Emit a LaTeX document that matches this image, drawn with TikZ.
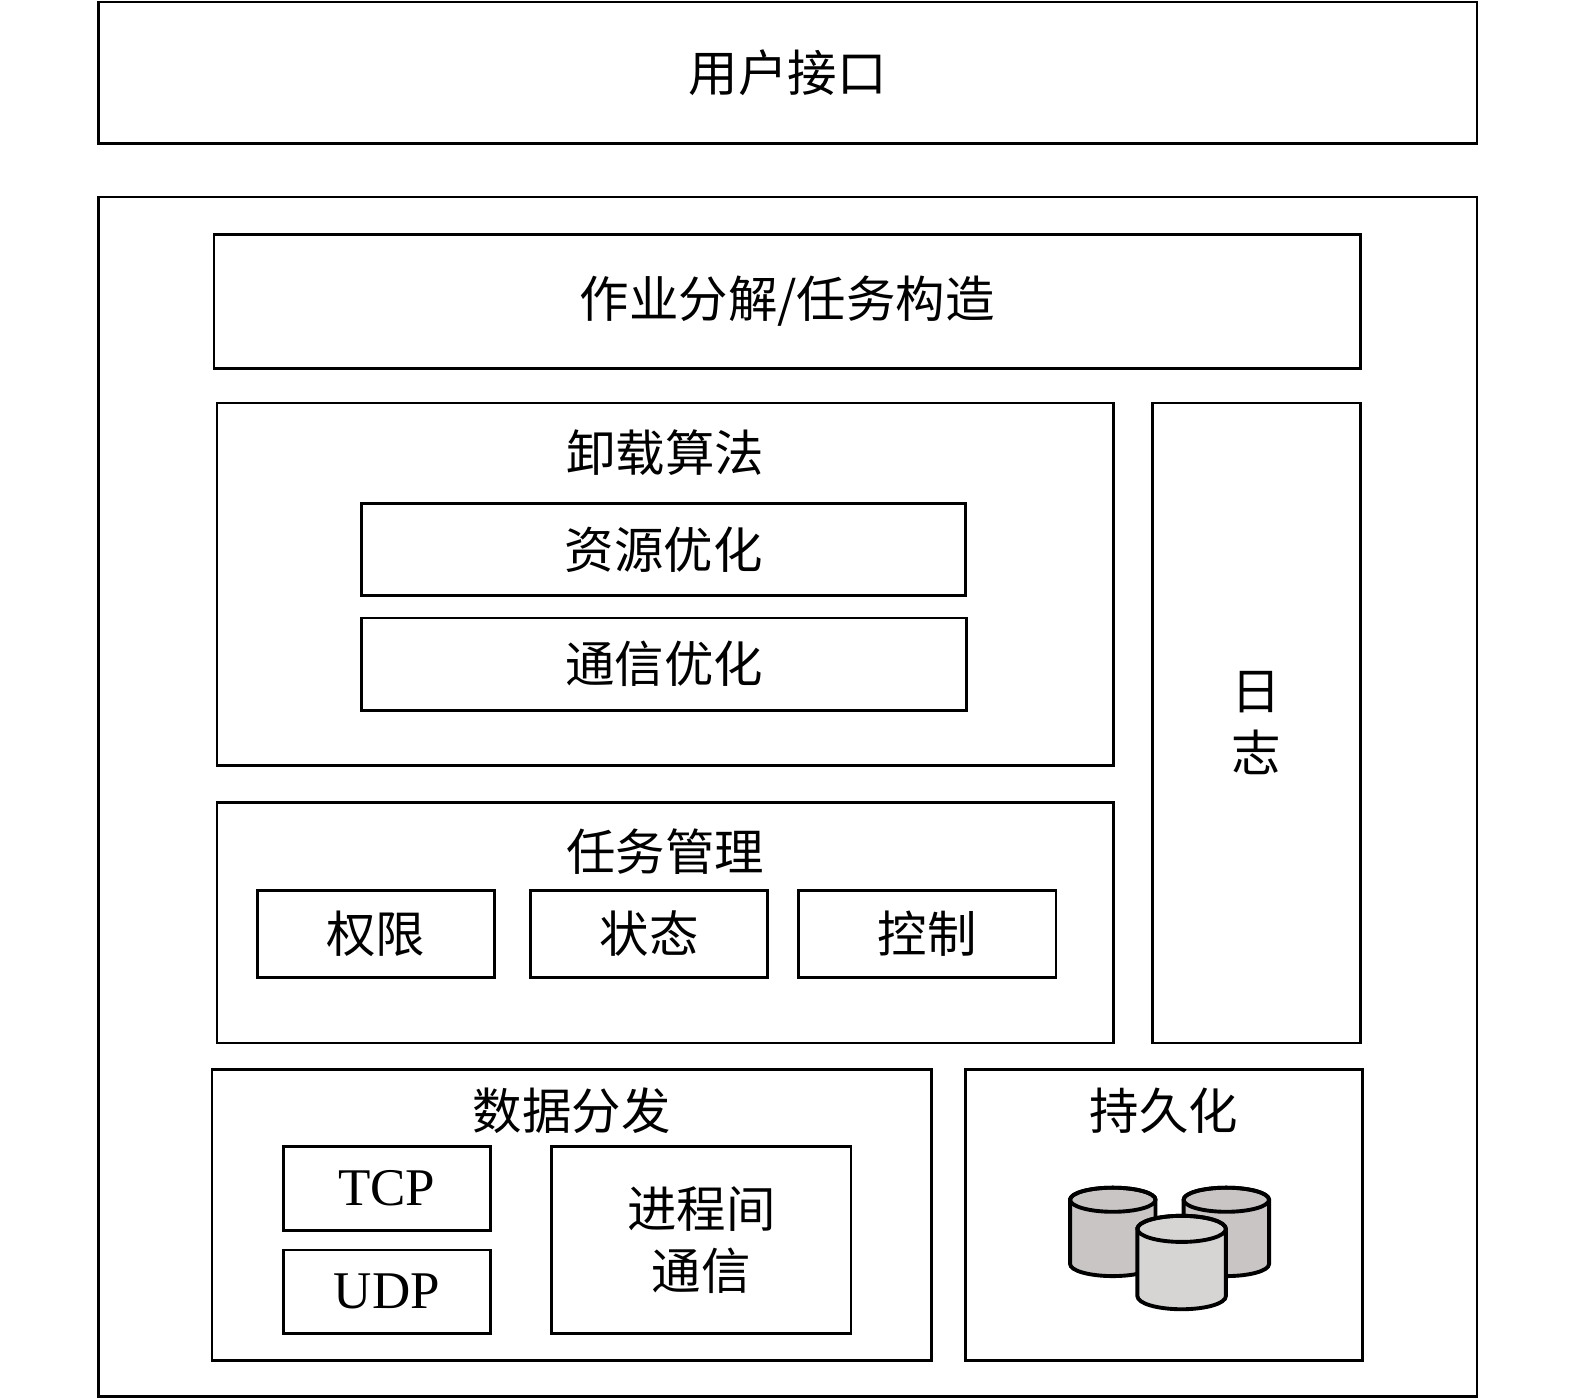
\documentclass[tikz,border=0pt]{standalone}
\usepackage{fontspec}
\setmainfont{Liberation Serif}
\newfontfamily\cjk{Noto Sans CJK SC}
\definecolor{drumgray}{RGB}{201,197,197}
\definecolor{drumlight}{RGB}{215,212,212}
\tikzset{
  box/.style={draw,line width=0.8pt,inner sep=0,minimum width=#1},
  txt/.style={inner sep=0,font=\cjk\fontsize{14pt}{17pt}\selectfont,align=center},
}
\newcommand{\drum}[6]{% x, top y, bottom y, rx, ry, fill
  \filldraw[line width=1.1pt,fill=#6] (#1-#4,#2) -- (#1-#4,#3)
    arc[start angle=180,end angle=360,x radius=#4,y radius=#5] -- (#1+#4,#2)
    arc[start angle=0,end angle=180,x radius=#4,y radius=#5] -- cycle;
  \draw[line width=1.1pt] (#1,#2) ellipse[x radius=#4,y radius=#5];
}

\begin{document}
\begin{tikzpicture}
    \useasboundingbox (0,0) rectangle (15.675,-13.923);
    \node[box=13.72cm,minimum height=1.41cm,txt] (ui) at (7.84,-0.725) {用户接口};
    \node[box=13.72cm,minimum height=11.94cm] (core) at (7.84,-7.93) {};
    \node[box=11.41cm,minimum height=1.34cm,txt] (decomp) at (7.835,-3.00) {作业分解/任务构造};

    % offloading
    \node[box=8.92cm,minimum height=3.61cm] (offload) at (6.62,-5.815) {};
    \node[txt] (offload_text) at (6.62,-4.50) {卸载算法};
    \node[box=6.01cm,minimum height=0.92cm,txt] (res) at (6.605,-5.47) {资源优化};
    \node[box=6.02cm,minimum height=0.92cm,txt] (comm) at (6.61,-6.61) {通信优化};

    \node[box=2.07cm,minimum height=6.37cm,txt] (log) at (12.505,-7.195) {日\\[0.6pt]志};

    % task management
    \node[box=8.92cm,minimum height=2.39cm] (taskmgr) at (6.62,-9.185) {};
    \node[txt] (taskmgr_text) at (6.62,-8.48) {任务管理};
    \node[box=2.36cm,minimum height=0.87cm,txt] (perm) at (3.74,-9.295) {权限};
    \node[box=2.36cm,minimum height=0.87cm,txt] (state) at (6.46,-9.295) {状态};
    \node[box=2.56cm,minimum height=0.87cm,txt] (ctrl) at (9.23,-9.295) {控制};

    % data distribution
    \node[box=7.16cm,minimum height=2.90cm] (dist) at (5.69,-12.09) {};
    \node[txt] (dist_text) at (5.69,-11.05) {数据分发};
    \node[box=2.06cm,minimum height=0.84cm,font=\fontsize{15pt}{18pt}\selectfont] (tcp) at (3.85,-11.83) {TCP};
    \node[box=2.06cm,minimum height=0.83cm,font=\fontsize{15pt}{18pt}\selectfont] (udp) at (3.85,-12.855) {UDP};
    \node[box=2.98cm,minimum height=1.86cm,txt] (ipc) at (6.98,-12.34) {进程间\\[0.6pt]通信};

    % persistence
    \node[box=3.95cm,minimum height=2.90cm] (persist) at (11.585,-12.09) {};
    \node[txt] (persist_text) at (11.585,-11.05) {持久化};
    \drum{11.075}{-11.94}{-12.58}{0.425}{0.12}{drumgray}
    \drum{12.205}{-11.94}{-12.58}{0.425}{0.12}{drumgray}
    \drum{11.76}{-12.23}{-12.90}{0.44}{0.13}{drumlight}
\end{tikzpicture}
\end{document}
